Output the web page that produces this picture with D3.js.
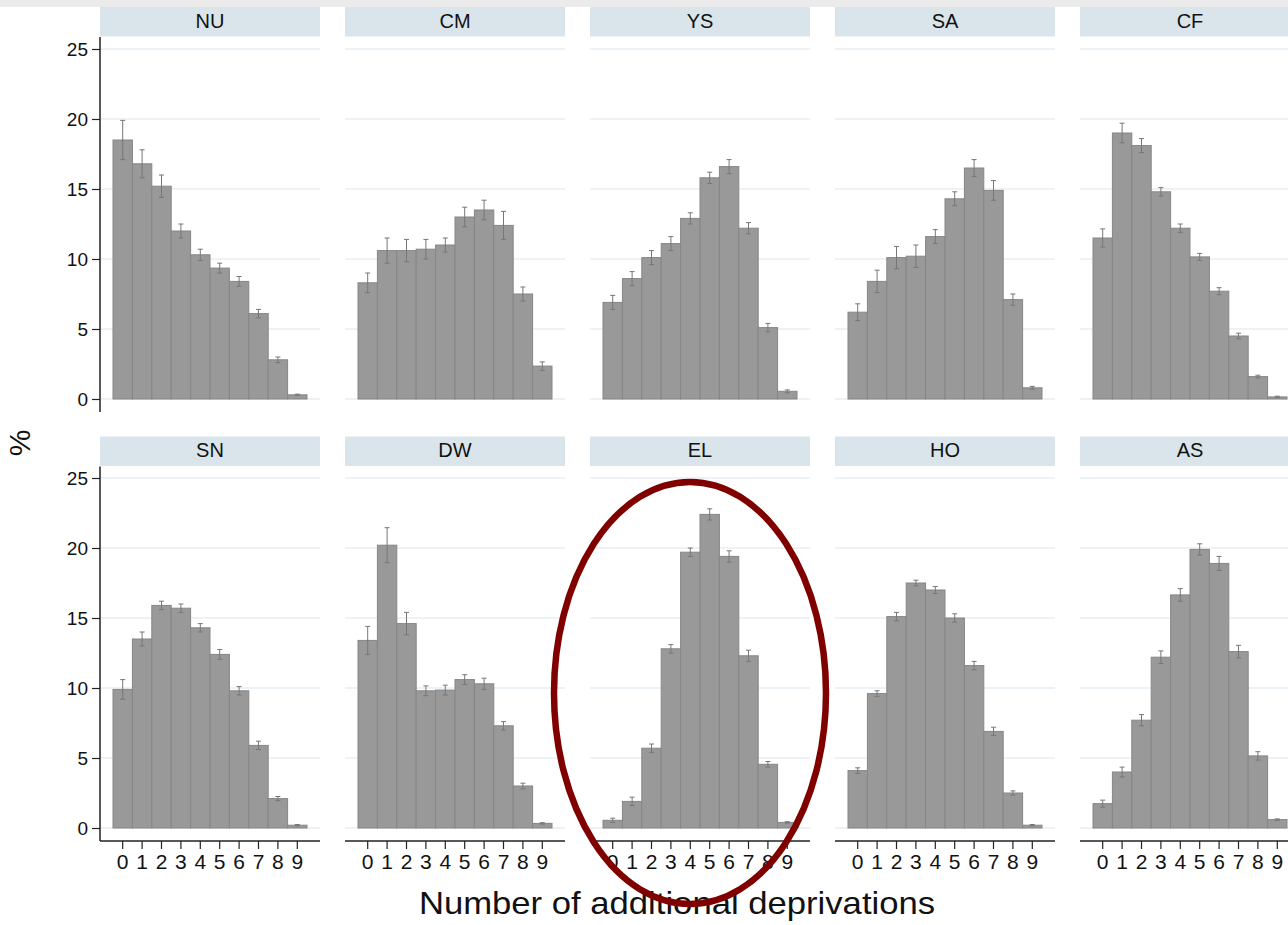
<!DOCTYPE html>
<html><head><meta charset="utf-8">
<script src="https://cdn.jsdelivr.net/npm/d3@7"></script>
<style>body{margin:0;background:#fff;} svg{display:block;font-family:"Liberation Sans",Arial,Helvetica,sans-serif;}</style>
</head><body>
<svg id="c" width="1288" height="925"></svg>
<script>
const categories = [0,1,2,3,4,5,6,7,8,9];
const panels = ["NU","CM","YS","SA","CF","SN","DW","EL","HO","AS"];
const values = {
  NU:[18.5,16.8,15.2,12.0,10.3,9.35,8.4,6.1,2.8,0.3],
  CM:[8.3,10.6,10.6,10.7,11.0,13.0,13.5,12.4,7.5,2.35],
  YS:[6.9,8.6,10.1,11.1,12.9,15.8,16.6,12.2,5.1,0.55],
  SA:[6.2,8.4,10.1,10.2,11.6,14.3,16.5,14.9,7.1,0.8],
  CF:[11.5,19.0,18.1,14.8,12.2,10.15,7.7,4.5,1.6,0.15],
  SN:[9.9,13.5,15.9,15.7,14.3,12.4,9.8,5.9,2.1,0.2],
  DW:[13.4,20.2,14.6,9.8,9.85,10.6,10.3,7.3,3.0,0.33],
  EL:[0.55,1.9,5.7,12.8,19.7,22.4,19.4,12.3,4.55,0.4],
  HO:[4.1,9.6,15.1,17.5,17.0,15.0,11.6,6.9,2.5,0.2],
  AS:[1.74,4.0,7.7,12.2,16.65,19.9,18.9,12.6,5.15,0.6]
};
const errors = {
  NU:[1.4,1.0,0.8,0.5,0.4,0.35,0.35,0.3,0.2,0.05],
  CM:[0.7,0.9,0.8,0.7,0.5,0.7,0.7,1.0,0.5,0.3],
  YS:[0.5,0.5,0.5,0.5,0.4,0.4,0.5,0.4,0.3,0.1],
  SA:[0.6,0.8,0.8,0.8,0.5,0.5,0.6,0.7,0.4,0.1],
  CF:[0.65,0.7,0.5,0.3,0.3,0.25,0.25,0.2,0.1,0.05],
  SN:[0.7,0.5,0.3,0.3,0.3,0.35,0.3,0.3,0.15,0.05],
  DW:[1.0,1.25,0.8,0.35,0.35,0.35,0.4,0.3,0.2,0.05],
  EL:[0.15,0.3,0.3,0.3,0.3,0.4,0.4,0.4,0.2,0.05],
  HO:[0.2,0.2,0.3,0.2,0.25,0.3,0.3,0.3,0.15,0.05],
  AS:[0.25,0.35,0.4,0.45,0.45,0.4,0.5,0.45,0.3,0.05]
};
const yTicks = [0,5,10,15,20,25];
const xTitle = "Number of additional deprivations";
const yTitle = "%";

const svg = d3.select("#c");
svg.append("rect").attr("x",0).attr("y",0).attr("width",1288).attr("height",7).attr("fill","#ebebeb");

const panelW = 220, colStep = 245, left0 = 100;
const rows = [{stripTop:7, y0:399, axisBottom:412}, {stripTop:436.5, y0:828, axisBottom:841}];
const unit = 14;

panels.forEach((name, i) => {
  const col = i % 5, row = Math.floor(i / 5);
  const R = rows[row];
  const px = left0 + col * colStep;
  const y = d3.scaleLinear().domain([0,25]).range([R.y0, R.y0 - 25*unit]);
  const x = d3.scaleBand().domain(categories).range([px + 13, px + 207]).paddingInner(0).paddingOuter(0);
  const g = svg.append("g");
  g.append("rect").attr("x",px).attr("y",R.stripTop).attr("width",panelW).attr("height",29.5).attr("fill","#d9e5eb");
  g.append("text").attr("x",px+panelW/2).attr("y",R.stripTop+20.5).attr("text-anchor","middle")
    .attr("font-size",20).attr("fill","#111").text(name);
  g.selectAll(".grid").data(yTicks).enter().append("line")
    .attr("x1",px).attr("x2",px+panelW).attr("y1",d=>y(d)).attr("y2",d=>y(d))
    .attr("stroke","#e6eef3").attr("stroke-width",1.5);
  g.selectAll(".bar").data(categories).enter().append("rect")
    .attr("x",d=>x(d)).attr("width",x.bandwidth())
    .attr("y",d=>y(values[name][d])).attr("height",d=>y(0)-y(values[name][d]))
    .attr("fill","#999999").attr("stroke","#868686").attr("stroke-width",1);
  const eb = g.selectAll(".eb").data(categories).enter().append("g").attr("stroke","#777").attr("stroke-width",1);
  eb.append("line").attr("x1",d=>x(d)+x.bandwidth()/2).attr("x2",d=>x(d)+x.bandwidth()/2)
    .attr("y1",d=>y(values[name][d]+errors[name][d])).attr("y2",d=>y(values[name][d]-errors[name][d]));
  eb.append("line").attr("x1",d=>x(d)+x.bandwidth()/2-2.5).attr("x2",d=>x(d)+x.bandwidth()/2+2.5)
    .attr("y1",d=>y(values[name][d]+errors[name][d])).attr("y2",d=>y(values[name][d]+errors[name][d]));
  eb.append("line").attr("x1",d=>x(d)+x.bandwidth()/2-2.5).attr("x2",d=>x(d)+x.bandwidth()/2+2.5)
    .attr("y1",d=>y(values[name][d]-errors[name][d])).attr("y2",d=>y(values[name][d]-errors[name][d]));
  if (col === 0) {
    const ya = d3.axisLeft(y).tickValues(yTicks).tickSize(8).tickPadding(4);
    const ag = g.append("g").attr("transform",`translate(${px},0)`).call(ya);
    ag.select(".domain").remove();
    ag.append("line").attr("x1",0).attr("x2",0).attr("y1",R.stripTop+30).attr("y2",R.axisBottom).attr("stroke","#222").attr("stroke-width",1.5);
    ag.selectAll(".tick line").attr("stroke","#222").attr("stroke-width",1.2);
    ag.selectAll(".tick text").attr("font-size",19).attr("fill","#111").attr("font-family","Liberation Sans, Arial, sans-serif");
  }
  if (row === 1) {
    const xa = d3.axisBottom(x).tickSize(8).tickPadding(5);
    const xg = g.append("g").attr("transform",`translate(0,${R.axisBottom})`).call(xa);
    xg.select(".domain").remove();
    xg.append("line").attr("x1",px).attr("x2",px+panelW).attr("y1",0).attr("y2",0).attr("stroke","#222").attr("stroke-width",1.5);
    xg.selectAll(".tick line").attr("stroke","#222").attr("stroke-width",1.2);
    xg.selectAll(".tick text").attr("font-size",21).attr("fill","#111").attr("font-family","Liberation Sans, Arial, sans-serif");
  }
});

svg.append("text").attr("transform","translate(677,914) scale(1.1,1)").attr("text-anchor","middle")
  .attr("font-size",31.5).attr("fill","#111").text(xTitle);
svg.append("text").attr("transform","translate(30,443) rotate(-90)").attr("text-anchor","middle")
  .attr("font-size",30).attr("fill","#111").text(yTitle);

svg.append("ellipse").attr("cx",690).attr("cy",693).attr("rx",136).attr("ry",211)
  .attr("fill","none").attr("stroke","#800000").attr("stroke-width",6.5);
</script>
</body></html>
